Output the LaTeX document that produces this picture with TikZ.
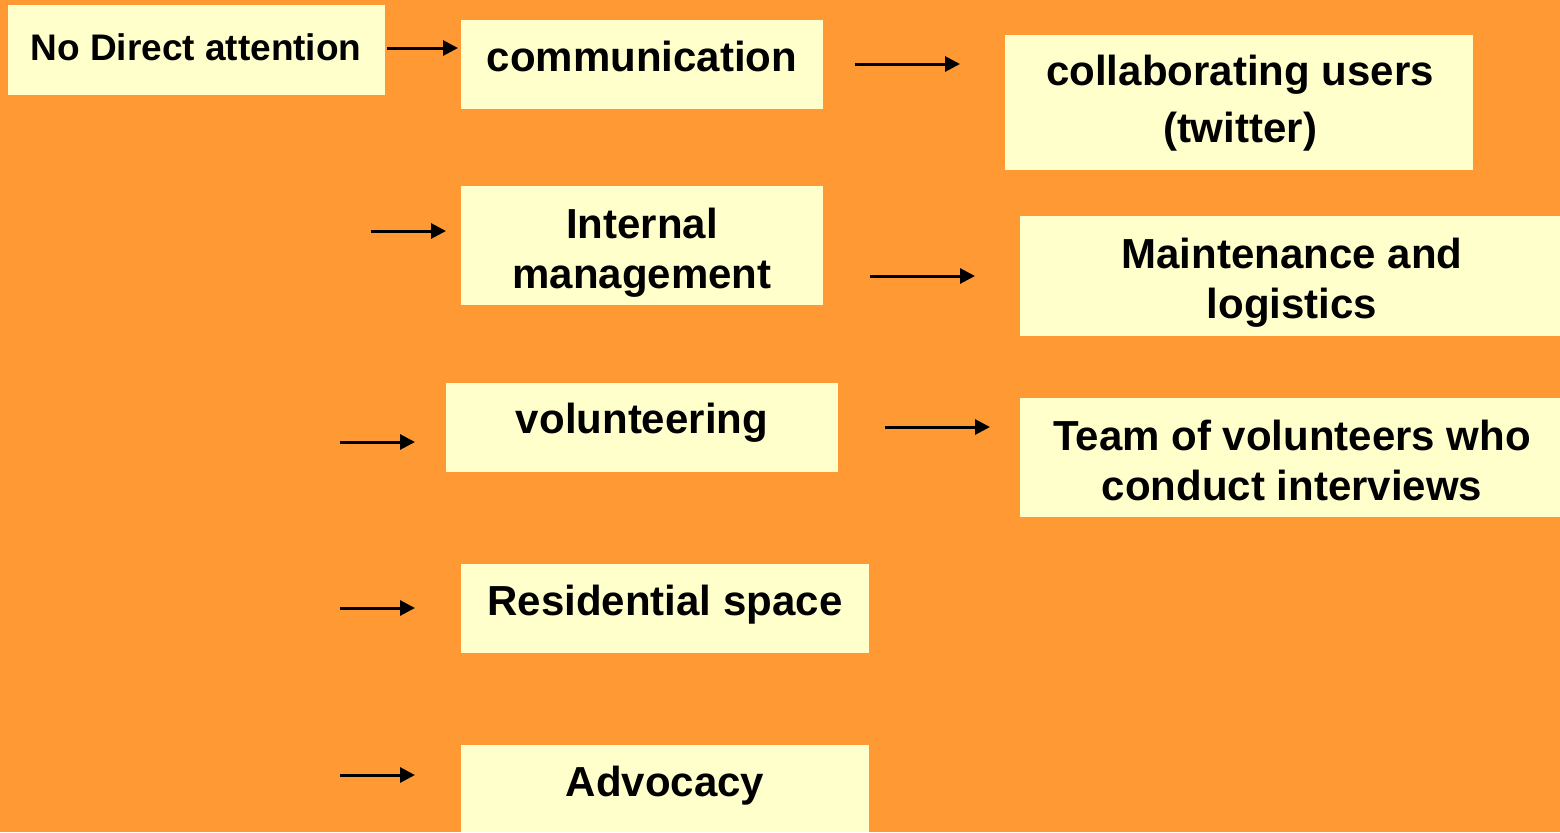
\documentclass[tikz,border=0pt]{standalone}
\usepackage{fontspec}
\setmainfont{Liberation Sans}
\usetikzlibrary{arrows.meta}
\definecolor{bgorange}{RGB}{255,153,51}
\definecolor{boxyellow}{RGB}{255,255,204}
\tikzset{
  box/.style={fill=boxyellow, draw=none},
  txt/.style={anchor=base, inner sep=0pt, align=center, font=\bfseries\fontsize{21}{25}\selectfont},
  link/.style={-{Triangle[length=7.5pt,width=7.5pt]}, line width=1.5pt, black}
}
\begin{document}
\begin{tikzpicture}[x=0.5pt,y=-0.5pt]
\useasboundingbox (0,0) rectangle (1560,832);
\fill[bgorange] (0,0) rectangle (1560,832);

%boxes
\path[box] (8,5) rectangle (385,95);
\path[box] (461,20) rectangle (823,109);
\path[box] (1005,35) rectangle (1473,170);
\path[box] (461,186) rectangle (823,305);
\path[box] (1020,216) rectangle (1560,336);
\path[box] (446,383) rectangle (838,472);
\path[box] (1020,398) rectangle (1560,517);
\path[box] (461,564) rectangle (869,653);
\path[box] (461,745) rectangle (869,832);

%texts (base = last line)
\node[txt, font=\bfseries\fontsize{18.5}{22}\selectfont] (nodirect) at (196,60) {No Direct attention};
\node[txt] (comm) at (642,71) {communication};
\node[txt, font=\bfseries\fontsize{21}{28.5}\selectfont] (collab) at (1240,142) {collaborating users\\(twitter)};
\node[txt] (internal) at (642,288) {Internal\\management};
\node[txt] (maint) at (1292,318) {Maintenance and\\logistics};
\node[txt] (volunt) at (642,433) {volunteering};
\node[txt] (team) at (1292,500) {Team of volunteers who\\conduct interviews};
\node[txt] (resid) at (665,615) {Residential space};
\node[txt] (advoc) at (665,796) {Advocacy};

%arrow ends
\coordinate (a1) at (387,48);  \coordinate (a2) at (458,48);
\coordinate (b1) at (855,64);  \coordinate (b2) at (960,64);
\coordinate (c1) at (371,231); \coordinate (c2) at (446,231);
\coordinate (d1) at (870,276); \coordinate (d2) at (975,276);
\coordinate (e1) at (340,442); \coordinate (e2) at (415,442);
\coordinate (f1) at (885,427); \coordinate (f2) at (990,427);
\coordinate (g1) at (340,608); \coordinate (g2) at (415,608);
\coordinate (h1) at (340,775); \coordinate (h2) at (415,775);

\draw[link] (a1) -- (a2);
\draw[link] (b1) -- (b2);
\draw[link] (c1) -- (c2);
\draw[link] (d1) -- (d2);
\draw[link] (e1) -- (e2);
\draw[link] (f1) -- (f2);
\draw[link] (g1) -- (g2);
\draw[link] (h1) -- (h2);
\end{tikzpicture}
\end{document}
